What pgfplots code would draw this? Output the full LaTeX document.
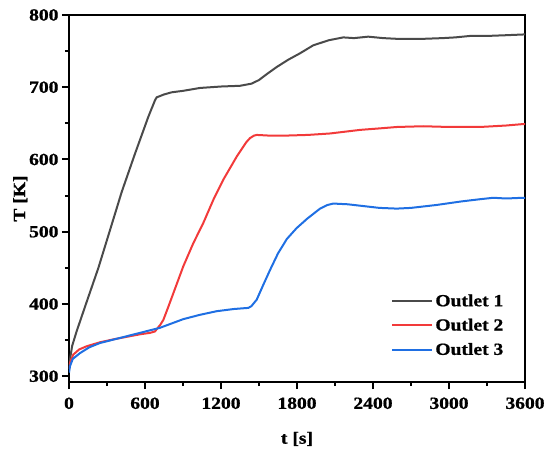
\documentclass[border=0pt]{standalone}
\usepackage{fontspec}
\setmainfont{Liberation Serif}[FakeStretch=1.15, BoldFont={Liberation Serif Bold}, BoldFeatures={FakeStretch=1.15, FakeBold=1}]
\usepackage{pgfplots}
\pgfplotsset{compat=1.18}
\definecolor{cA}{HTML}{4A4A4A}
\definecolor{cB}{HTML}{F23A3A}
\definecolor{cC}{HTML}{1F6FE3}
\newcommand{\lblfont}{\fontsize{17}{20}\selectfont\bfseries}
\begin{document}
\begin{tikzpicture}
\begin{axis}[
  scale only axis,
  width=456pt, height=367pt,
  xmin=0, xmax=3600, ymin=292, ymax=800,
  xtick={0,600,...,3600}, ytick={300,400,...,800},
  minor x tick num=1, minor y tick num=1,
  tick align=outside,
  xtick pos=bottom, ytick pos=left,
  major tick length=7pt, minor tick length=4pt,
  every tick/.style={black, line width=2pt},
  axis line style={line width=2pt},
  /pgf/number format/assume math mode=true,
  /pgf/number format/1000 sep={},
  ticklabel style={font=\lblfont},
  xticklabel style={yshift=-5pt},
  label style={font=\lblfont},
  xlabel={t [s]}, ylabel={T [K]},
  xlabel style={yshift=-16pt},
  ylabel style={yshift=-5pt},
  legend style={draw=none, fill=none, font=\lblfont,
    at={(0.70,0.25)}, anchor=north west, row sep=7pt},
  legend cell align=left,
  legend image code/.code={\draw[#1] (0pt,0pt) -- (40pt,0pt);},
]
\addplot[cA, line width=2pt] coordinates {
(0,310)(10,326)(25,342)(60,362)(126,396)(232,450)(311,495)(416,555)(521,608)(626,659)(679,682)(692,686)(750,690)(811,693)(900,695)(1034,699)(1200,701)(1350,702)(1442,705)(1500,710)(1560,718)(1640,728)(1730,738)(1824,747)(1928,758)(2050,765)(2165,769)(2250,768)(2362,770)(2480,768)(2590,767)(2795,767)(2950,768)(3050,769)(3166,771)(3300,771)(3450,772)(3584,773)(3600,773)
};
\addlegendentry{Outlet 1}
\addplot[cB, line width=2pt] coordinates {
(0,310)(10,320)(34,330)(80,337)(140,341.5)(245,347)(350,351)(455,354.5)(560,358)(640,360)(679,362)(692,365)(720,371)(745,378)(784,396)(824,415)(902,452)(981,484)(1060,512)(1139,544)(1218,572)(1324,604)(1400,624)(1429,629.6)(1460,633)(1482,634)(1587,633)(1700,633)(1887,634)(2061,636)(2300,641)(2450,643)(2590,645)(2795,646)(3000,645)(3245,645)(3450,647)(3584,649)(3600,649)
};
\addlegendentry{Outlet 2}
\addplot[cC, line width=2pt] coordinates {
(0,305)(8,314)(30,324)(87,332)(160,340)(245,346)(403,353)(560,360)(718,367)(902,379)(1034,385)(1166,390)(1300,393)(1416,394.6)(1440,397)(1482,406)(1530,425)(1587,447)(1650,470)(1720,490)(1797,505)(1880,518)(1982,532)(2040,537)(2087,539)(2200,538)(2300,536)(2450,533)(2587,532)(2700,533)(2900,537)(3100,542)(3245,545)(3350,547)(3450,546)(3584,547)(3600,547)
};
\addlegendentry{Outlet 3}
\end{axis}
\pgfresetboundingbox
\path[use as bounding box] ([xshift=-69pt,yshift=-69.3pt]current axis.south west) rectangle ([xshift=25pt,yshift=15pt]current axis.north east);
\end{tikzpicture}
\end{document}
